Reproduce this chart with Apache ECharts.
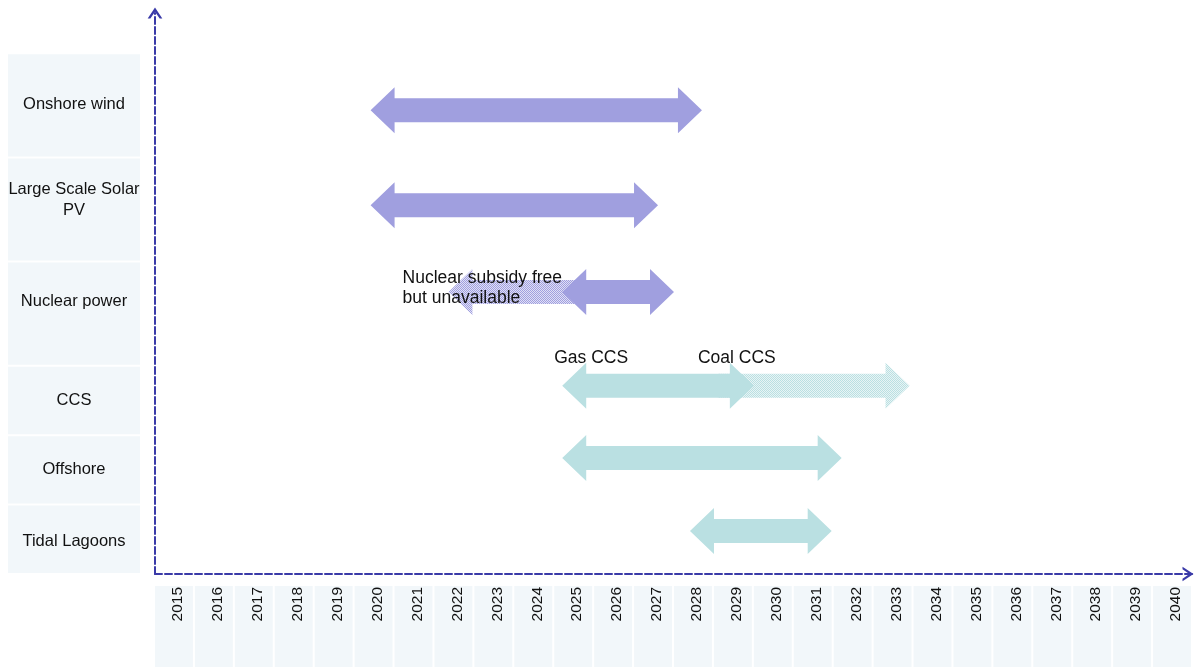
<!DOCTYPE html>
<html><head><meta charset="utf-8">
<script src="https://cdn.jsdelivr.net/npm/echarts@6/dist/echarts.min.js"></script>
<style>html,body{margin:0;padding:0;background:#fff}#c{width:1195px;height:668px}</style>
</head><body><div id="c"></div>
<script>
// ---------- data ----------
const years = [2015, 2016, 2017, 2018, 2019, 2020, 2021, 2022, 2023, 2024, 2025, 2026, 2027,
               2028, 2029, 2030, 2031, 2032, 2033, 2034, 2035, 2036, 2037, 2038, 2039, 2040];
const technologies = ['Onshore wind', 'Large Scale Solar\nPV', 'Nuclear power', 'CCS', 'Offshore', 'Tidal Lagoons'];
const rowStart = [6, 4.5, 3, 2, 1, 0];
const rowEnd = [7.5, 6, 4.5, 3, 2, 1];
const labelLane = [6.77, 5.39, 3.92, 2.5, 1.5, 0.475];
const techGroup = ['purple', 'purple', 'purple', 'teal', 'teal', 'teal'];

// solid double arrows (one per technology)
const arrowStart = [2019.9, 2019.9, 2024.7, 2024.7, 2024.7, 2027.9];
const arrowEnd = [2028.2, 2027.1, 2027.5, 2029.5, 2031.7, 2031.45];
const arrowLane = [6.68, 5.31, 4.06, 2.71, 1.67, 0.62];

// dotted single arrows (nuclear subsidy free, coal CCS)
const dottedGroup = ['purple', 'teal'];
const dottedTail = [2025.4, 2028.6];
const dottedTip = [2021.85, 2033.4];
const dottedLane = [4.06, 2.71];

// annotations
const noteText = ['Nuclear subsidy free\nbut unavailable', 'Gas CCS', 'Coal CCS'];
const noteYear = [2020.7, 2024.5, 2028.1];
const noteLane = [4.12, 3.11, 3.11];

// ---------- styles ----------
const FONT = '"Liberation Sans", Arial, sans-serif';
const COLORS = { purple: '#a09fdf', teal: '#bae0e2' };
const LIGHT = { purple: '#e0e0f5', teal: '#e8f4f5' };
const BOX = '#f2f7fa', AXIS = '#3a3aa8', TEXT = '#111111';

function makePattern(color, light) {
  const c = document.createElement('canvas');
  c.width = c.height = 2;
  const g = c.getContext('2d');
  g.fillStyle = light; g.fillRect(0, 0, 2, 2);
  g.fillStyle = color; g.fillRect(0, 0, 1, 1); g.fillRect(1, 1, 1, 1);
  return { image: c, repeat: 'repeat' };
}

function arrowPoints(x1, x2, cy, leftHead, rightHead) {
  const hl = 24, hh = 23, sh = 12;
  const pts = [];
  if (leftHead) pts.push([x1, cy], [x1 + hl, cy - hh], [x1 + hl, cy - sh]);
  else pts.push([x1, cy + sh], [x1, cy - sh]);
  if (rightHead) pts.push([x2 - hl, cy - sh], [x2 - hl, cy - hh], [x2, cy], [x2 - hl, cy + hh], [x2 - hl, cy + sh]);
  else pts.push([x2, cy - sh], [x2, cy + sh]);
  if (leftHead) pts.push([x1 + hl, cy + sh], [x1 + hl, cy + hh]);
  return pts;
}

const chart = echarts.init(document.getElementById('c'));
const chevron = 'path://M0,9 L6,0 L12,9 L9.8,9 L6,3.4 L2.2,9 Z';

const option = {
  animation: false,
  grid: { left: 155, top: 13, width: 1038, height: 561 },
  xAxis: {
    type: 'value', min: 2014.5, max: 2040.5,
    axisLabel: { show: false }, axisTick: { show: false }, splitLine: { show: false },
    axisLine: { show: true, symbol: ['none', chevron], symbolSize: [15, 11], symbolOffset: [0, -5],
      lineStyle: { color: AXIS, width: 2, type: [7, 3] } }
  },
  yAxis: {
    type: 'value', min: 0, max: 8.08,
    axisLabel: { show: false }, axisTick: { show: false }, splitLine: { show: false },
    axisLine: { show: true, symbol: ['none', chevron], symbolSize: [15, 11],
      lineStyle: { color: AXIS, width: 2, type: [7, 3] } }
  },
  series: [
    { // technology boxes
      type: 'custom', clip: false, z: 1,
      data: technologies.map((t, i) => [rowStart[i], rowEnd[i], labelLane[i]]),
      encode: { y: [0, 1] },
      renderItem(params, api) {
        const i = params.dataIndex;
        const a = api.coord([2014.5, api.value(1)]);
        const b = api.coord([2014.5, api.value(0)]);
        const l = api.coord([2014.5, api.value(2)]);
        return { type: 'group', children: [
          { type: 'rect', shape: { x: a[0] - 147, y: a[1] + 1, width: 132, height: b[1] - a[1] - 2 }, style: { fill: BOX } },
          { type: 'text', x: a[0] - 81, y: l[1], style: { text: technologies[i], align: 'center', verticalAlign: 'middle',
              font: '16.5px ' + FONT, fill: TEXT, lineHeight: 21 } }
        ] };
      }
    },
    { // year cells
      type: 'custom', clip: false, z: 1,
      data: years.map(y => [y, 0]),
      encode: { x: 0, y: 1 },
      renderItem(params, api) {
        const yr = api.value(0);
        const p0 = api.coord([yr - 0.5, 0]);
        const p1 = api.coord([yr + 0.5, 0]);
        const top = p0[1] + 12;
        return { type: 'group', children: [
          { type: 'rect', shape: { x: p0[0], y: top, width: p1[0] - p0[0] - 2, height: 81 }, style: { fill: BOX } },
          { type: 'text', x: (p0[0] + p1[0]) / 2 + 3, y: top + 1, rotation: Math.PI / 2,
            style: { text: String(yr), align: 'right', verticalAlign: 'middle', font: '15.5px ' + FONT, fill: TEXT } }
        ] };
      }
    },
    { // dotted arrows
      type: 'custom', clip: false, z: 2,
      data: dottedTail.map((t, i) => [t, dottedTip[i], dottedLane[i]]),
      encode: { x: [0, 1], y: 2 },
      renderItem(params, api) {
        const i = params.dataIndex;
        const t = api.coord([api.value(0), api.value(2)]);
        const h = api.coord([api.value(1), api.value(2)]);
        const left = h[0] < t[0];
        const pts = left ? arrowPoints(h[0], t[0], t[1], true, false) : arrowPoints(t[0], h[0], t[1], false, true);
        const g = dottedGroup[i];
        return { type: 'polygon', shape: { points: pts }, style: { fill: makePattern(COLORS[g], LIGHT[g]) } };
      }
    },
    { // solid arrows
      type: 'custom', clip: false, z: 3,
      data: arrowStart.map((s, i) => [s, arrowEnd[i], arrowLane[i]]),
      encode: { x: [0, 1], y: 2 },
      renderItem(params, api) {
        const i = params.dataIndex;
        const a = api.coord([api.value(0), api.value(2)]);
        const b = api.coord([api.value(1), api.value(2)]);
        return { type: 'polygon', shape: { points: arrowPoints(a[0], b[0], a[1], true, true) },
          style: { fill: COLORS[techGroup[i]] } };
      }
    },
    { // annotations
      type: 'custom', clip: false, z: 4,
      data: noteYear.map((x, i) => [x, noteLane[i]]),
      encode: { x: 0, y: 1 },
      renderItem(params, api) {
        const i = params.dataIndex;
        const p = api.coord([api.value(0), api.value(1)]);
        return { type: 'text', x: p[0], y: p[1], style: { text: noteText[i], align: 'left', verticalAlign: 'middle',
          font: '17.5px ' + FONT, fill: TEXT, lineHeight: 20 } };
      }
    }
  ]
};
chart.setOption(option);
</script>
</body></html>
